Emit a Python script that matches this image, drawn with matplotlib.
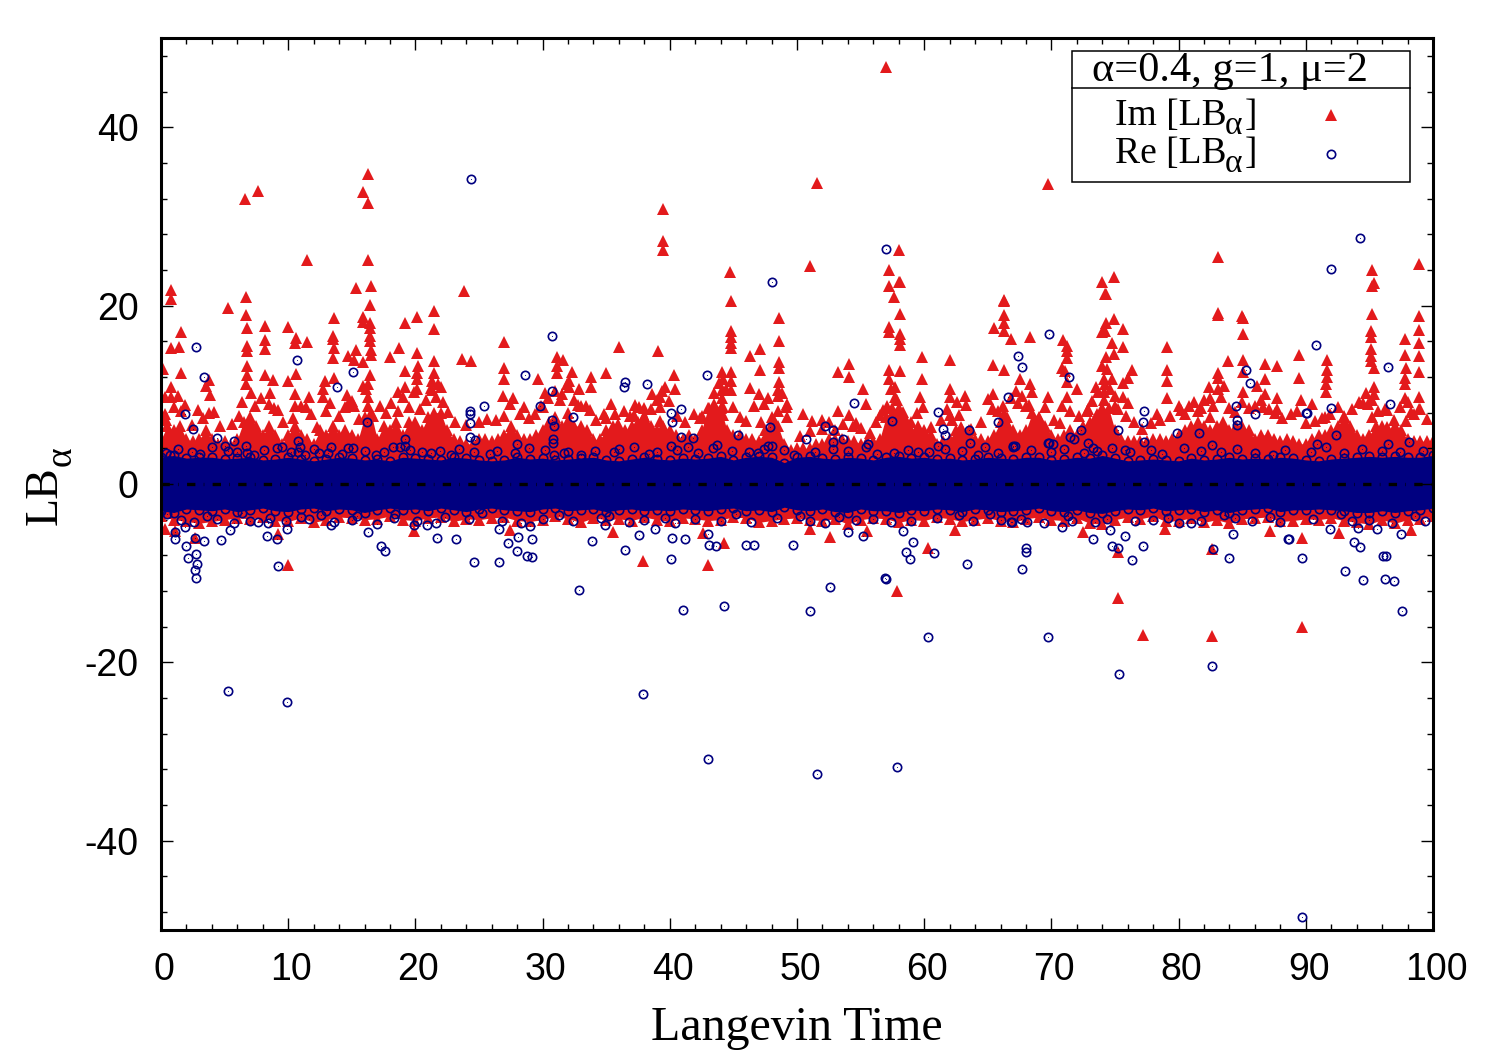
import numpy as np
import matplotlib
matplotlib.use("Agg")
import matplotlib.pyplot as plt
from matplotlib.patches import Rectangle
from matplotlib.lines import Line2D
from matplotlib.transforms import ScaledTranslation

plt.rcParams["axes.unicode_minus"] = False

RED = "#e31a1c"
NAVY = "#000080"

# scattered Im points above and below the dense band
im_t = [.76,.76,1.6,.76,1.44,.18,1.6,.76,.3,.76,1.36,.3,1.6,2.9,3.8,3.5,3.85,3.8,5.3,6.7,6.7,6.8,6.8,6.8,6.8,6.8,6.7,
        6.6,7.6,8.2,8.2,8.2,8.2,8.8,8.6,8.9,10,10.6,10.5,11.5,10,10.6,10.5,10.5,11.6,11.4,11.5,12.9,12.7,12.7,
        13.6,13.5,13.5,13.6,13.5,13.6,15.3,16.5,16.4,15.9,15.9,16.4,16.4,16.4,16.4,15.3,14.7,15.2,15.9,16.5,16.5,16.4,16.3,15.9,16.3,16.3,14.6,14.7,15.2,
        15.9,16.3,16.3,16.3,19.2,20.1,21.5,21.5,23.8,23.7,24.4,18.7,18,20.1,19.2,20.2,20.1,20.1,21.5,21.5,21.3,19.2,18.6,20.1,22,21.3,21.6,
        27,27,27,26.9,29.6,31.1,31.6,31.1,31.1,32.3,32.1,32.1,33.8,33.8,30.2,31.5,32.9,28.5,27.4,29.9,32.8,33.4,
        36,39.1,35,44.8,48.6,48.6,44.8,44.8,44.8,44.8,46.3,47.1,47.1,48.6,48.6,48.6,48.5,48.5,44.1,44.8,44.2,44.8,44.8,44.1,44.1,44.2,44.2,
        46.3,47,47.4,49.2,48.5,49.2,40.3,40.4,39.6,39.2,38.6,37.3,37.2,35.4,34.8,35.9,42.5,39.2,39.2,50.5,51.2,52,53.2,53.2,54.1,54.1,55.2,55.4,54.1,54.6,
        57.2,58.1,58.1,57.2,57.2,58.1,58.1,58.1,57.2,58.1,57.2,57.7,57.7,57.1,56.5,58.3,59.8,59.8,59.7,62,62,62,62.6,63.2,63.3,62,62.7,
        66.3,66.3,66.3,66.3,65.5,66.8,68.3,65.4,66.3,67.5,68.3,65.4,65.4,66.3,67.4,68.2,69.7,
        57,51.6,69.7,39.5,39.5,39.5,44.7,51,57.2,58,58,57.6,83.1,98.9,95.2,95.4,74.9,74,74.2,66.3,85,83.1,
        70.9,71.2,71.2,71.2,70.8,71.1,71.2,72,71.2,70.8,74.3,74.9,74.3,74.2,74,75.6,74.8,75.6,74.9,74.3,74,74.4,76.3,76,75.6,74.1,74.8,73.5,74.1,74.1,75,75.6,75,76,72.8,73.6,
        78.3,79.1,79.1,79.1,79.1,80,80.5,81.2,81.8,82.5,82.4,83.1,83.1,83.1,83.6,82.5,83.9,83.1,85.1,85.1,85.1,85.1,86.8,87.7,86.8,86.2,86.8,85.1,87.7,87.7,86.6,
        89.5,89.5,91.7,91.7,91.7,91.6,91.6,89.6,90.5,91.5,95.2,95.2,95.1,95.1,95.1,95.1,95.1,95.4,95.4,95.4,94.9,94.5,95.2,96.4,96.4,
        98.9,98.9,97.8,98.9,98.9,97.8,97.9,98.9,97.8,97.8,97.8,98.9,98.9,97.9,98.3,
        10,43,44.3,37.9,52.6,57.9,60.3,75.2,75.2,77.2,82.6,82.6,89.7,89.7,2.7,.3,1.1,9.2,19.9,27.4,35.5,42.6,51,55.5,62.4,72.5,78.9,87.2,92.6,98.3]
im_y = [21.7,20.7,17,15.3,15.4,12.9,12.4,10.9,9.7,9.7,9.9,7.9,8.2,8.3,8,11,10,11.7,19.7,21,19,17.5,15.5,14.9,13.2,12.2,11.2,
        31.9,32.8,17.7,16.1,15.1,12.2,11.7,10.2,8.5,17.6,16.4,15.8,15.9,11.6,12.3,10.1,8.8,9.8,8.6,25.1,11.6,10.7,9.7,
        18.6,16.6,16.3,15.2,14.1,11.9,22,22.2,20.1,18.7,18.2,18,17.5,16.6,16,15,14.4,13.9,13.7,15,14.5,12.2,11.2,11,9.8,8.8,10,9,8.8,
        32.7,34.7,31.5,25.1,18.1,18.7,19.4,17.4,21.6,14,13.8,15.2,14.2,14.7,12.7,13.2,12.4,11.8,13.8,12.4,11.5,10.9,10.3,10.7,10.9,10.5,9.7,
        15.9,13,11.8,9.9,11.8,14.2,13.9,13.2,12.4,12.5,11.6,10.9,12,10.9,10.2,10.1,10.6,8.6,9,8.8,8.9,8.8,
        15.4,14.9,12.4,20.5,18.6,16,17.1,16.5,15.8,15.2,14.4,15.1,12.8,13.7,13,11.4,10.5,9.9,12.5,12.5,11.8,11.6,10.5,10.5,9.6,8.6,7.7,
        10.8,10.1,9,9,8.2,7.5,12.2,10.6,10.9,9.7,10.1,8.9,7.7,9,7.9,6.7,7.6,8.6,7.1,7.9,7.1,7.2,8.2,12.5,13.4,12,10.6,9,7.7,6.8,
        22.2,22.7,19.1,17.6,17,16.8,16.3,15.6,12.8,12.7,11.8,10.9,9.7,8.8,7.7,8.1,14.2,11.8,9.7,13.9,10.6,9.7,9.2,9.9,8.9,7.7,7.7,
        20.5,18.9,18.1,17.2,17.5,16.2,16.5,13.3,12.8,11.8,11.2,10.1,8.4,7.9,9.1,8.9,9.8,
        46.7,33.8,33.6,30.8,27.2,26.2,23.8,24.4,24,26.2,22.7,21,25.5,24.7,24,22.5,23.2,22.6,21.3,20.6,18.8,19.2,
        16.1,15.5,14.9,14.1,13,12.7,11.4,10.6,9.7,8.8,21.3,18.5,18.1,17.2,17,17.4,15.8,15.4,14.6,14.2,13.2,12.9,12.8,11.9,11.3,11.8,11.8,10.9,10.3,9.4,9.9,9.7,8.8,9.1,8.2,7.8,
        7.8,15.4,12.8,11.5,9.6,8.8,7.8,9.2,8.5,7.5,10.9,12.4,11.9,10.7,11,9.6,13.8,19,18.6,16.8,13.9,12.5,13.5,13.2,11.8,11,10.1,10.3,9.6,8.4,8.6,
        14.5,11.9,13.9,12.8,12,11.2,10.3,9.4,9,7.5,22.2,19.1,17.2,16.5,15.1,14.4,13.8,13,10.9,10.1,9,9.1,7.5,8.3,6.4,
        18.8,17.3,16.2,15.8,14.4,14.5,13,12.5,11.9,11.2,9.6,9.7,8.4,7.1,8.1,
        -9.1,-9.1,-6.6,-8.6,-5.9,-12,-7.2,-12.8,-7.6,-16.9,-17,-7.3,-16,-6,-6,-5,-5.3,-5.6,-5.3,-5.2,-5.4,-5.5,-5.1,-5.3,-5.2,-5.4,-5.1,-5.3,-5.5,-5.2]

# the thinner triangles that stand on the band, between y=5 and y=10
forest_t = [.4,1,1.9,2.4,3.3,4.2,4.6,5.6,6.1,6.4,7.1,7.4,7.9,8.5,9.2,9.6,10.4,11,11.8,12.3,13,13.3,14,14.5,15,15.6,16.1,16.7,17.2,17.7,
            18.1,18.6,19,19.5,19.9,20.4,20.8,21.2,21.8,22.2,22.6,23.1,24,25,25.6,26.3,27,27.7,28.2,28.9,29.4,30,30.4,31,31.4,31.9,32.5,33,33.7,34.2,
            35,35.7,36.4,36.9,37.6,38,38.5,39,39.4,39.9,40.6,41.2,41.9,42.4,43.1,43.5,43.9,44.4,45,45.5,46,46.6,47.2,47.7,48.2,48.8,49.1,
            50.2,51,52,52.5,53,53.6,54.4,55,55.7,56.2,56.8,57.4,57.9,58.5,59,59.4,59.9,60.5,61.3,61.8,62.2,62.9,63.7,64.5,65,65.3,65.8,66.2,66.8,67.2,67.7,68,68.5,69,69.5,
            70.2,70.7,71.5,72.2,72.9,73.2,73.7,74.2,74.6,75.2,75.9,76.5,77.1,77.8,78.5,79.3,80.2,80.8,81.5,82,82.7,83.3,84,84.4,85,85.5,86,86.5,87.1,87.6,88.1,88.8,89.3,
            90,90.7,91.3,91.9,92.5,93,93.6,94.2,94.7,95.2,95.7,96.2,96.9,97.4,98,98.5,99,99.5]
forest_y = [7.2,8.6,8.9,6.6,7.4,8.1,6.5,6.7,7.6,9.2,10.2,8.7,9.6,9,8.3,6.9,7.4,8.8,7.8,6.4,8.2,9.1,7.6,8.6,9.3,7.3,10.6,7.6,8.7,8,
            9.1,8.2,9.8,8.6,10.3,8.4,9.4,10.8,11.2,9.2,8.1,7,6.6,6.9,7.3,7.2,7.6,9.6,7.9,7.4,7.8,8.6,9.6,10.4,9.4,11.2,9.4,8.8,8.3,7.2,
            7.4,7.8,8.2,7.6,8.6,7.6,8.4,9.4,10.4,9.3,7.6,7,7.8,7.4,8.5,10.2,11.3,10.6,8.6,7.5,7.1,8.7,7,9.6,7.2,10.2,8.6,
            5.4,5.9,6.2,6.9,6,6.7,6.5,6.3,5.7,7,8.3,10.6,9.4,7.4,6.9,8,8.6,6.4,7.2,8.4,7.2,6.4,6.2,7,9.5,8.4,8.2,8.8,9.6,10.4,9.9,8.8,10.3,7.4,8.6,
            7.2,6.8,8.2,7.6,8.4,9.3,10.3,11.2,10.6,8.4,7.6,6.9,6.2,6.8,7.2,7.6,8.3,8.8,8.2,9.4,8.7,9.8,8.5,8.1,9.2,8.5,8.7,9.4,8.4,8,7.4,7.9,8.2,
            6.8,7.1,7.4,7.9,8.6,7.6,8.4,9.2,10.2,9.4,8.2,8.4,7.2,8.6,9.2,7.8,8.4,7.3]

# scattered Re points
re_t = [2.75,3.4,1.9,2.5,4.4,5.7,5,6.7,10.7,13.8,15.1,16.2,30.7,28.6,25.4,24.3,24.3,24.3,30.7,29.8,30.7,30.9,32.4,30.8,30.8,28,19.2,19.2,10.8,10.9,10.8,13.4,15.1,18.2,24.3,24.7,9.1,30.9,21.9,
        1.1,1.1,2,2.15,2.75,2.8,2.7,2.75,3.4,2.7,4.7,5.4,1.9,8.3,9.1,9.2,9.9,7.6,8.4,13.4,16.3,17.3,17.6,21.7,23.2,24.6,26.6,27.3,28.1,28,28.8,29.2,29.2,33.9,19.9,20.9,26.6,29,
        5.3,9.9,24.4,32.9,37.9,41,44.3,43,48,51,51.6,52.6,57,57,57.9,60.3,69.7,75.3,82.6,89.7,90.8,92,94.3,94.5,96.5,97.6,93.1,89.7,92,90,96.6,96.2,96.9,96.1,88.7,
        36.5,36.4,38.2,42.9,40.1,40.9,40.2,40.9,41.8,41.4,40.1,43.7,45.4,47.9,47.7,48,54.5,52.2,52.8,53.6,52.8,55.6,50.7,57.5,61.1,61.5,61.6,63.5,63.6,61.1,65.8,66.6,67.4,67.7,64.8,67,69.7,69.8,
        34.9,36.5,37.6,38.8,40.1,40.2,41.2,43,43.1,43.6,46,46.6,49.7,55.2,58.3,59.1,58.6,58.9,60.8,63.4,68,68,67.7,54,56.9,66.8,
        71.4,85.3,85.6,84.5,86,84.6,84.6,77.3,77.2,77.3,90.1,72.3,75.2,79.9,81.6,82.6,92.4,90.9,98.1,96.5,69.8,70.1,71.5,71.8,72.9,73.3,75.8,67.1,
        66.9,68.1,70.8,73.3,74.6,75.8,74.8,75.2,76.3,77.2,80,81.8,82.7,84,84.3,88.6,91.9,93.8,94.3,96.3,97.5,94.1,95.6,
        .4,.7,3.1,6,7.3,11.3,12.4,14.2,16.9,20.5,22.8,25.9,31.7,33,35.6,38.4,46.9,49.8,56.3,59.5,64.2,72.6,78.7,83.3,87.4,93,99.2,
        .5,3.6,6.4,11,12.6,15.4,18.4,22.3,25.2,31.3,35.2,39.6,45.2,50.2,53.3,62.7,65.2,71.3,79.2,83.6,87.2,92.8,98.6,
        1.3,2.4,4,5.3,6.8,8.1,9.5,10.2,12,13.1,14.7,16,17.5,18.8,19.6,21.2,23.4,24.6,26.4,27.8,28.9,30.2,32,34.1,36,37.2,39,40.6,42.2,43.4,44.9,46.2,47.4,49,51.4,52.8,54,55.4,57.6,58.7,60.4,61.6,63,65.8,67,68.4,70,71,73.6,74.8,76.2,77.8,80.4,81.8,84.6,86,88.4,90.4,91.6,94.4,96,97.4,
        1.6,2.6,4.4,5.7,7,8.6,9.8,11.6,13.6,15,17,18.3,20.1,21.6,24.2,26.8,28.3,30,32.4,34.6,36.8,38,40.4,42,44,46.4,48.4,51,52.2,54.6,56,57.4,59,61,63.8,66,67.6,69.4,71.6,73.4,74.4,76.6,78,81,84.4,85.8,88,90.6,93.6,95,96.8,99.4]
re_y = [15.4,12,7.9,6.2,5.2,4.8,4.3,4.3,13.9,10.9,12.5,7,16.6,12.2,8.7,8.2,7.8,6.8,10.4,8.7,7.2,6.5,7.5,5.1,4.6,4.5,5,4.3,4.8,4.1,3.6,4.2,4,4.1,5.3,4.9,4,3.3,3.7,
        -5.4,-6.2,-6.9,-8.3,-7.9,-9,-9.6,-10.5,-6.4,-6,-6.3,-5.2,-4.8,-5.8,-6.2,-9.2,-5,-4.3,-4.4,-4.6,-5.4,-6.9,-7.5,-6,-6.2,-8.7,-8.7,-6.6,-5.9,-7.5,-8.1,-8.2,-6.2,-6.4,-4.6,-4.6,-5,-4.7,
        -23.2,-24.4,34.2,-11.9,-23.5,-14.1,-13.7,-30.8,22.7,-14.2,-32.5,-11.5,26.4,-10.6,-31.7,-17.1,-17.1,-21.3,-20.4,-48.5,15.6,24.1,27.6,-10.8,13.1,-14.2,-9.7,-8.3,8.5,8,9,-10.7,-10.9,-8.1,-6.2,
        11.4,10.9,11.2,12.2,8,8.4,6.9,5.3,5.2,4.1,4.3,4.4,5.5,6.4,4.3,4.3,9.1,6.5,6,5.1,4.7,4.5,5.1,7.1,8.1,6.2,5.5,6.1,4.6,4.3,6.9,9.7,14.3,13.1,4.1,4.3,4.6,16.8,
        -4.6,-7.4,-5.7,-5.1,-8.4,-6,-6.2,-5.6,-6.8,-7,-6.8,-6.8,-6.8,-5.8,-5.3,-6.5,-7.6,-8.4,-7.7,-9,-7.2,-7.6,-9.5,-5.4,-10.5,-4.3,
        12,12.8,11.3,8.7,7.8,7.2,6.6,8.2,6.9,4.7,8,6.1,6,5.7,5.7,4.4,5.5,4.5,4.7,4.5,4.6,4.5,5.3,5,4.6,4,3.8,4.3,
        -4.3,-4.3,-4.8,-6.2,-5.2,-5.8,-7,-7.2,-8.5,-6.9,-4.4,-4.1,-7.3,-8.3,-5.6,-6.2,-5,-6.5,-7.1,-8.1,-5.6,-4.9,-5.1,
        3.5,3.3,3.4,3.6,3.2,3.3,3.5,3.4,3.3,3.6,3.2,3.4,3.5,3.3,3.6,3.4,3.5,3.3,3.4,3.6,3.3,3.5,3.4,3.6,3.3,3.5,3.7,
        -3.4,-3.6,-3.3,-3.7,-3.5,-3.6,-3.4,-3.7,-3.3,-3.5,-3.6,-3.8,-3.4,-3.6,-3.7,-3.5,-3.4,-3.6,-3.8,-3.5,-3.7,-3.4,-3.6,
        3.9,3.6,4.1,3.7,3.5,3.8,4.2,3.6,3.9,3.5,4,3.7,3.6,4.1,3.8,3.5,3.9,3.6,3.7,3.5,4,3.8,3.6,3.7,3.9,4.1,3.6,3.8,3.5,4,3.7,3.6,3.9,3.8,3.6,3.9,3.7,4.1,3.5,3.8,3.6,3.9,3.7,3.5,4.1,3.8,3.6,3.9,3.7,4,3.6,3.8,4,3.7,3.9,3.5,3.8,3.6,4.2,3.9,3.7,3.6,
        -4,-4.3,-3.9,-4.4,-4.1,-3.8,-4.2,-3.9,-4.3,-4,-4.5,-3.8,-4.1,-4.4,-3.9,-4.2,-4.4,-3.9,-4.1,-3.8,-4.3,-4,-4.4,-3.9,-4.1,-4.3,-3.8,-4.2,-4.4,-4,-3.9,-4.3,-4.1,-3.8,-4.2,-4,-3.9,-4.4,-4.1,-4.3,-3.9,-4.2,-4,-4.4,-3.8,-4.1,-4.3,-3.9,-4.2,-4,-4.4,-4.1]

# outline of the solid parts of the band, every half unit from t=0 to t=100
red_top = [5,6.5,6,6.5,5,4.8,5,6,5,4.5,4.8,4.3,5,7,7.5,6.5,5.5,6.5,5.5,4.5,
           5.5,6.5,5.5,5,4.5,6,5.5,6.5,5.5,6,5.5,5,7.5,8,5,6.5,6,7,5.5,7,
           7,6,7.5,8,8,6,5,4.8,4.5,4.5,5,5,4.8,5,5.5,6.5,5.5,5,5,5.5,
           6,7,7.5,6.5,8,6.5,6.5,6,5,5,6,6.5,6,6,6.5,7,8.5,6.5,6,6.5,
           6,5.5,5,5.5,5,6,8.5,9,8.5,6,5.5,5.5,5,5,4.8,6,7.5,6.5,4.5,3.8,
           4,4,4,4.5,4.5,5,5,5,4.8,4.8,4.5,4.8,4.8,5,7.5,8.5,8.5,6.5,6,6.5,
           6,5.5,4.5,4.8,5,6,6,6,5,5,4.8,5.5,7,7.5,6,5.5,6,8,7.5,6.5,
           5.5,5,5.5,6,5.5,6.5,7,7.5,8.5,8.5,6,5,4.8,4.8,4.8,4.8,5,5,4.8,5,
           5.5,6,6.5,7,6.5,6,6.5,7,6,6.5,6.5,6,5,5.5,5.5,5,4.8,5,4.8,4.5,
           4.5,5,5.5,5.5,6,6.5,7.5,6.5,5.5,5,5.5,6.5,6.5,6,6.5,6,5,4.8,4.8,4.8,4.8]
red_bot = [-3.6,-4,-4.2,-4.4,-4.2,-4,-3.8,-3.9,-3.7,-4.1,-4.2,-3.8,-4.3,-4,-3.7,-3.8,-4,-3.9,-3.6,-4,-4.1,-3.8,-3.7,-4.2,-3.9,-4,
           -3.8,-3.7,-4.1,-4.2,-4,-3.6,-3.9,-4.3,-3.8,-4,-3.9,-4.1,-3.7,-4,-4.2,-3.8,-3.9,-4.1,-4,-3.7,-3.8,-4.3,-4.1,-3.9,
           -3.8,-4,-4.1,-3.9,-4.5,-4,-3.8,-3.9,-4.3,-4,-4.1,-3.7,-3.9,-4.2,-4,-3.8,-4.1,-4.3,-3.9,-3.7,-4,-4.1,-3.8,-4.4,-4.5,-4,-3.7,-3.9,-3.6,-4.2,
           -4.1,-3.8,-4.3,-4,-4.4,-3.9,-3.8,-3.7,-4.2,-4.1,-3.9,-4,-3.8,-4.1,-4.3,-4.5,-4,-4.4,-4,-3.9,-3.6]
blue_top = [3,3.2,2.9,3,3,2.8,2.9,3,2.7,2.8,3,2.8,2.6,2.8,3,2.9,2.7,2.8,2.6,3,2.9,2.8,2.7,3,2.9,2.7,
            2.6,2.7,3,2.8,2.9,2.7,2.8,2.9,3,2.7,2.6,2.8,3,2.8,2.7,2.9,2.8,2.9,3.1,2.7,3,3.1,3,2.4,
            3,3.1,2.9,2.8,3,2.9,2.7,3,3.1,2.9,3,2.8,2.9,2.7,2.8,3,2.9,2.8,3,3,2.7,2.8,3,2.9,3.2,2.9,2.6,2.7,2.8,2.7,
            2.6,2.9,2.7,2.8,3,2.8,2.9,2.8,3,2.9,2.7,2.6,2.8,2.9,3,3.1,3,3.1,3,3,3.2]
blue_bot = [-3,-3.2,-2.8,-2.9,-3,-2.8,-3.1,-2.9,-2.7,-3,-3.1,-2.8,-2.7,-3,-2.8,-2.9,-3.2,-2.9,-2.7,-2.9,-2.8,-3,-2.7,-2.9,-3.1,-2.8,
            -2.7,-2.9,-3,-3.1,-2.8,-2.7,-3,-2.9,-2.8,-3.1,-2.9,-2.8,-3,-2.9,-3,-2.8,-2.9,-3,-2.8,-2.7,-3,-2.9,-3.1,-2.6,
            -2.9,-3,-2.8,-3.1,-3.2,-2.8,-3,-3,-3.2,-2.9,-3,-2.8,-2.9,-3.1,-2.8,-2.9,-3.1,-3,-2.9,-2.7,-3,-3.1,-2.9,-3.2,-3.3,-3,-2.8,-2.9,-2.7,-3,
            -2.9,-2.8,-3.1,-2.9,-3.2,-2.9,-2.8,-2.7,-3.1,-2.9,-2.9,-2.8,-2.9,-3,-3.2,-3.2,-3,-3.2,-3,-2.9,-2.7]

title_text = "α=0.4, g=1, μ=2"
sub_text = "α"
im_label = "Im [LB"
re_label = "Re [LB"
y_label = "LB"
x_label = "Langevin Time"

W, H = 1500, 1050
SERIF = "Liberation Serif"
fig = plt.figure(figsize=(W / 100, H / 100), dpi=100)
ax = fig.add_axes([161 / W, 1 - 930 / H, (1433 - 161) / W, (930 - 38) / H])

t_half = np.linspace(0, 100, len(red_top))
t_one = np.linspace(0, 100, len(blue_top))
tri = dict(marker="^", ms=8.6, color=RED, mec=RED, mew=0, ls="none")
cir = dict(marker="o", ms=6.0, mfc="none", mec=NAVY, mew=1.2, ls="none")

# Im layer
ax.fill_between(t_half, np.interp(t_half, t_one, red_bot), red_top, color=RED, lw=0)
ax.plot(t_half, red_top, **tri)
ax.plot(t_one, red_bot, **tri)
ax.plot(im_t, im_y, **tri)
ax.plot(forest_t, forest_y, **tri)

# Re layer
ax.fill_between(t_one, blue_bot, blue_top, color=NAVY, lw=0)
ax.plot(t_one, blue_top, **cir)
ax.plot(t_one, blue_bot, **cir)
ax.plot(re_t, re_y, **cir)
ax.plot(re_t, re_y, marker=".", ms=1.5, color=NAVY, mew=0, ls="none")

# zero axis, dash-dot
ax.plot([0, 100], [0, 0], color="black", lw=2.4, ls=(0, (2.5, 2.5, 0.17, 2.5)), dash_capstyle="butt", zorder=5)

ax.set_xlim(0, 100)
ax.set_ylim(-50, 50)
ax.set_xticks(np.arange(0, 101, 10))
ax.set_xticks(np.arange(0, 101, 2), minor=True)
ax.set_yticks([-40, -20, 0, 20, 40])
ax.set_yticks(np.arange(-48, 49, 4), minor=True)
ax.tick_params(which="major", direction="in", top=True, right=True, length=8.6, width=1)
ax.tick_params(which="minor", direction="in", top=True, right=True, length=4.3, width=1)
ax.tick_params(axis="x", which="major", pad=16)
ax.tick_params(axis="y", which="major", pad=16)
for s in ax.spines.values():
    s.set_linewidth(2.2)
    s.set_zorder(10)
for lab in ax.get_xticklabels() + ax.get_yticklabels():
    lab.set_fontfamily("Liberation Sans")
    lab.set_fontsize(27)
for lab in ax.get_xticklabels():
    lab.set_transform(lab.get_transform() + ScaledTranslation(3 / 100, 0, fig.dpi_scale_trans))

fig.text(797 / W, 1 - 1028 / H, x_label, family=SERIF, fontsize=34.6, ha="center", va="center")
fig.text(57 / W, 1 - 525 / H, y_label, family=SERIF, fontsize=33, rotation=90,
         ha="left", va="baseline", rotation_mode="anchor")
fig.text(71 / W, 1 - 466 / H, sub_text, family=SERIF, fontsize=27, rotation=90,
         ha="left", va="baseline", rotation_mode="anchor")

# legend box, built by hand to get the gnuplot key look
fig.add_artist(Rectangle((1072 / W, 1 - 182 / H), 338 / W, 131 / H, transform=fig.transFigure,
                         fc="white", ec="black", lw=1.1, zorder=6))
fig.add_artist(Line2D([1072 / W, 1410 / W], [1 - 88 / H, 1 - 88 / H], color="black", lw=1.1, zorder=7))
fig.text(1230 / W, 1 - 71 / H, title_text, family=SERIF, fontsize=30.5, ha="center", va="center", zorder=8)
for label, base in [(im_label, 125), (re_label, 163)]:
    fig.text(1115 / W, 1 - base / H, label, family=SERIF, fontsize=27, ha="left", va="baseline", zorder=8)
    fig.text(1225 / W, 1 - (base + 9) / H, sub_text, family=SERIF, fontsize=24, ha="left", va="baseline", zorder=8)
    fig.text(1245 / W, 1 - base / H, "]", family=SERIF, fontsize=27, ha="left", va="baseline", zorder=8)
fig.add_artist(Line2D([1331 / W], [1 - 115 / H], marker="^", ms=8.6, color=RED, mew=0, ls="none", zorder=8))
fig.add_artist(Line2D([1331 / W], [1 - 154 / H], marker="o", ms=6.0, mfc="none", mec=NAVY, mew=1.2, ls="none", zorder=8))

fig.savefig("out.png", dpi=100)
